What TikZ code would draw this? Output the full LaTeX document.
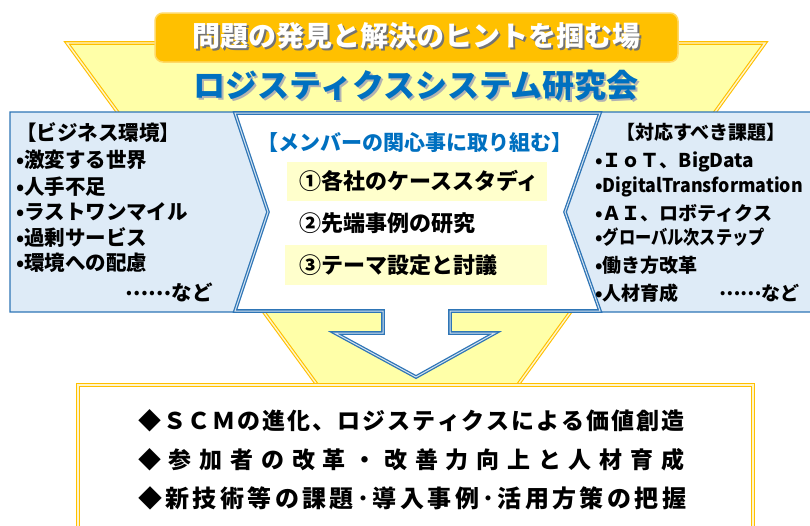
\documentclass[tikz,border=0pt]{standalone}
\usepackage{fontspec}
\usepackage{graphicx}
\setmainfont{Noto Sans CJK JP}
\definecolor{orangebox}{HTML}{FFC000}
\definecolor{orangeedge}{HTML}{FFD966}
\definecolor{funnelfill}{HTML}{FFFFA8}
\definecolor{gold}{HTML}{FFC000}
\definecolor{goldgap}{HTML}{FFF5CC}
\definecolor{titleblue}{HTML}{0070C0}
\definecolor{paleblue}{HTML}{DEEBF7}
\definecolor{edgeblue}{HTML}{2E75B6}
\definecolor{hilite}{HTML}{FFFFCC}
\newcommand\spreadtext[2]{\hbox to #1{\spreadfirst#2\relax}}
\def\spreadfirst#1{#1\spreadrest}
\def\spreadrest#1{\ifx#1\relax\else\hfil#1\expandafter\spreadrest\fi}
\newcommand\hfit[2]{\resizebox{#1}{\height}{#2}}
\newcommand\shadowed[2]{\makebox[0pt][l]{\hspace{2pt}\raisebox{-2pt}{\color{#1}#2}}#2}
\newcommand\middots{\raisebox{5pt}{……}}
\tikzset{
  txt/.style={inner sep=0pt, font=\bfseries\fontsize{20.5}{20.5}\selectfont},
  rtxt/.style={inner sep=0pt, font=\bfseries\fontsize{19}{19}\selectfont},
  sidebox/.style={fill=paleblue, draw=edgeblue, line width=1.2pt, line join=miter},
  goldline/.style={draw=gold, double=goldgap, double distance=1.4pt, line width=1.1pt},
  blueline/.style={draw=edgeblue, double=white!80!edgeblue, double distance=1pt, line width=1.3pt},
}
\begin{document}
\begin{tikzpicture}[x=1pt,y=-1pt]
\useasboundingbox (0,0) rectangle (810,525);
% funnel
\path[fill=funnelfill, goldline] (67,43) -- (765,43) -- (517,386) -- (318,386) -- cycle;
% bottom box
\path[fill=white, goldline] (78,385) rectangle (753,540);
% side boxes
\path[sidebox] (10,112) -- (235,112) -- (268,212) -- (235,312) -- (10,312) -- cycle;
\path[sidebox] (598,112) -- (815,112) -- (815,312) -- (598,312) -- (565,212) -- cycle;
% middle arrow
\path[fill=white, blueline] (235,113) -- (600,113) -- (565,212) -- (600,311) -- (450,311) -- (450,333) -- (495,333) -- (416,377) -- (335,333) -- (383,333) -- (383,311) -- (235,311) -- (268,212) -- cycle;
% highlights
\fill[hilite] (287,162) rectangle (547,201);
\fill[hilite] (285,245) rectangle (547,285);
% orange box
\path[fill=orangebox, draw=orangeedge, line width=1.5pt, rounded corners=8pt] (155,13) rectangle (678,62);
% texts top
\node[txt, font=\bfseries\fontsize{28}{28}\selectfont, text=white] (toptext) at (416,37) {\shadowed{black!55}{問題の発見と解決のヒントを掴む場}};
\node[txt, font=\bfseries\fontsize{32}{32}\selectfont, text=titleblue] (title) at (416,86) {\shadowed{black!30}{ロジスティクスシステム研究会}};
% left texts
\node[txt, anchor=west] (lhead) at (16,133) {【ビジネス環境】};
\node[txt, anchor=west] (l1) at (16,160) {•激変する世界};
\node[txt, anchor=west] (l2) at (16,187) {•人手不足};
\node[txt, anchor=west] (l3) at (16,212) {•ラストワンマイル};
\node[txt, anchor=west] (l4) at (16,238) {•過剰サービス};
\node[txt, anchor=west] (l5) at (16,263) {•環境への配慮};
\node[txt, anchor=east] (l6) at (213,292) {\middots など};
% right texts
\node[rtxt] (rhead) at (701,132) {【対応すべき課題】};
\node[rtxt, anchor=west] (r1) at (595,162) {•ＩｏＴ、BigData};
\node[rtxt, anchor=west] (r2) at (595,187) {•\hfit{200pt}{DigitalTransformation}};
\node[rtxt, anchor=west] (r3) at (595,213) {•ＡＩ、ロボティクス};
\node[rtxt, anchor=west] (r4) at (595,237) {•\hfit{162pt}{グローバル次ステップ}};
\node[rtxt, anchor=west] (r5) at (595,265) {•働き方改革};
\node[rtxt, anchor=west] (r6) at (595,293) {•人材育成};
\node[rtxt, anchor=east] (r7) at (800,293) {\middots など};
% middle texts
\node[txt, font=\bfseries\fontsize{21}{21}\selectfont, text=titleblue] (mhead) at (415,143) {【メンバーの関心事に取り組む】};
\node[txt, anchor=west, font=\bfseries\fontsize{22}{22}\selectfont] (m1) at (299,181) {①各社のケーススタディ};
\node[txt, anchor=west, font=\bfseries\fontsize{22}{22}\selectfont] (m2) at (299,223) {②先端事例の研究};
\node[txt, anchor=west, font=\bfseries\fontsize{22}{22}\selectfont] (m3) at (299,265) {③テーマ設定と討議};
% bottom texts
\node[txt, anchor=west, font=\bfseries\fontsize{23}{23}\selectfont] (b1) at (138,421) {\spreadtext{546pt}{◆ＳＣＭの進化、ロジスティクスによる価値創造}};
\node[txt, anchor=west, font=\bfseries\fontsize{23}{23}\selectfont] (b2) at (138,460) {\spreadtext{546pt}{◆参加者の改革・改善力向上と人材育成}};
\node[txt, anchor=west, font=\bfseries\fontsize{24}{24}\selectfont] (b3) at (138,498) {\spreadtext{548pt}{◆新技術等の課題･導入事例･活用方策の把握}};
\end{tikzpicture}
\end{document}
